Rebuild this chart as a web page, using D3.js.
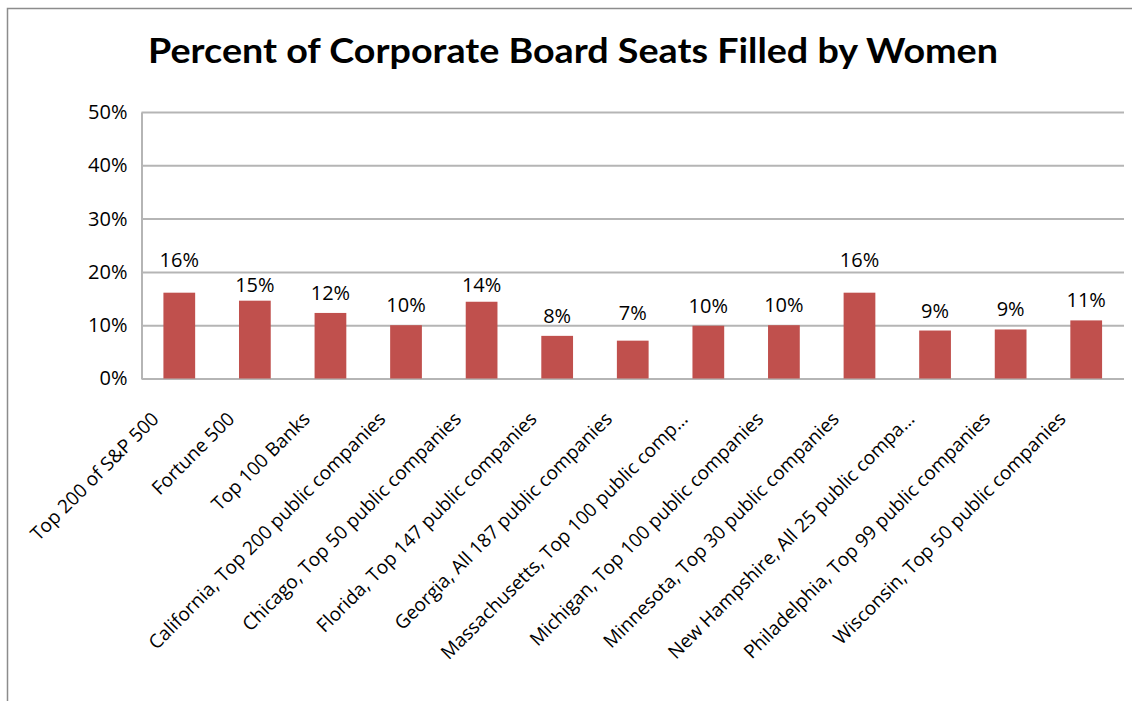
<!DOCTYPE html>
<html>
<head>
<meta charset="utf-8">
<script src="https://cdn.jsdelivr.net/npm/d3@7"></script>
<style>
  html, body { margin: 0; padding: 0; background: #fff; }
  svg { display: block; }
</style>
</head>
<body>
<svg id="chart" width="1132" height="701"></svg>
<script>
const title = "Percent of Corporate Board Seats Filled by Women";
const categories = [
  "Top 200 of S&P 500",
  "Fortune 500",
  "Top 100 Banks",
  "California, Top 200 public companies",
  "Chicago, Top 50 public companies",
  "Florida, Top 147 public companies",
  "Georgia, All 187 public companies",
  "Massachusetts, Top 100 public comp…",
  "Michigan, Top 100 public companies",
  "Minnesota, Top 30 public companies",
  "New Hampshire, All 25 public compa…",
  "Philadelphia, Top 99 public companies",
  "Wisconsin, Top 50 public companies"
];
const values = [16.1, 14.6, 12.3, 10.0, 14.4, 8.0, 7.1, 9.9, 10.0, 16.1, 9.0, 9.2, 10.9];
const yTicks = [0, 10, 20, 30, 40, 50];

const svg = d3.select("#chart");
const W = 1132, H = 701;
const plot = { left: 141.5, right: 1124, top: 112, bottom: 378.5 };

// outer frame (only top and left visible)
svg.append("rect")
  .attr("x", 7.5).attr("y", 8.5)
  .attr("width", W + 20).attr("height", H + 20)
  .attr("fill", "#fff")
  .attr("stroke", "#8c8c8c").attr("stroke-width", 1.5);

// title
svg.append("text")
  .attr("x", 573).attr("y", 63)
  .attr("text-anchor", "middle")
  .attr("font-family", "Lato, 'Open Sans', sans-serif")
  .attr("font-weight", "bold")
  .attr("font-size", 35)
  .attr("fill", "#000")
  .attr("textLength", 850)
  .attr("lengthAdjust", "spacingAndGlyphs")
  .text(title);

const x = d3.scaleBand()
  .domain(categories)
  .range([plot.left, plot.right])
  .paddingInner(0.58)
  .paddingOuter(0.29);

const y = d3.scaleLinear()
  .domain([0, 50])
  .range([plot.bottom, plot.top]);

// y axis with gridlines
const yAxis = d3.axisLeft(y)
  .tickValues(yTicks)
  .tickFormat(d => d + "%")
  .tickSize(-(plot.right - plot.left))
  .tickSizeOuter(0)
  .tickPadding(14);

const gy = svg.append("g")
  .attr("transform", `translate(${plot.left},0)`)
  .call(yAxis);
gy.select(".domain").attr("stroke", "#b5b5b5").attr("stroke-width", 2);
gy.selectAll(".tick line").attr("stroke", "#b5b5b5").attr("stroke-width", 2);
gy.selectAll(".tick text")
  .attr("font-family", "'Open Sans', sans-serif")
  .attr("font-size", 20)
  .attr("fill", "#000");

// bars
svg.append("g").selectAll("rect")
  .data(categories)
  .join("rect")
  .attr("x", d => x(d))
  .attr("width", x.bandwidth())
  .attr("y", (d, i) => y(values[i]))
  .attr("height", (d, i) => y(0) - y(values[i]))
  .attr("fill", "#c0504d");

// data labels: above bar, nudged away from gridlines
const gridYs = yTicks.map(t => y(t));
function labelY(v) {
  let c = y(v) - 20;
  let g = gridYs.reduce((a, b) => Math.abs(b - c) < Math.abs(a - c) ? b : a);
  const diff = c - g;
  if (Math.abs(diff) < 6) c = g - 12;
  else if (diff >= 6 && diff < 14) c = g + 13;
  return c;
}
svg.append("g").selectAll("text")
  .data(categories)
  .join("text")
  .attr("x", d => x(d) + x.bandwidth() / 2)
  .attr("y", (d, i) => labelY(values[i]))
  .attr("dy", "0.35em")
  .attr("text-anchor", "middle")
  .attr("font-family", "'Open Sans', sans-serif")
  .attr("font-size", 20)
  .attr("fill", "#000")
  .text((d, i) => d3.format(".0f")(values[i]) + "%");

// category labels rotated -45
svg.append("g").selectAll("text")
  .data(categories)
  .join("text")
  .attr("transform", d => `translate(${x(d) + x.bandwidth() / 2 - 24},${plot.bottom + 37}) rotate(-45)`)
  .attr("dy", "0.35em")
  .attr("text-anchor", "end")
  .attr("font-family", "'Open Sans', sans-serif")
  .attr("font-size", 19)
  .attr("fill", "#000")
  .text(d => d);
</script>
</body>
</html>
